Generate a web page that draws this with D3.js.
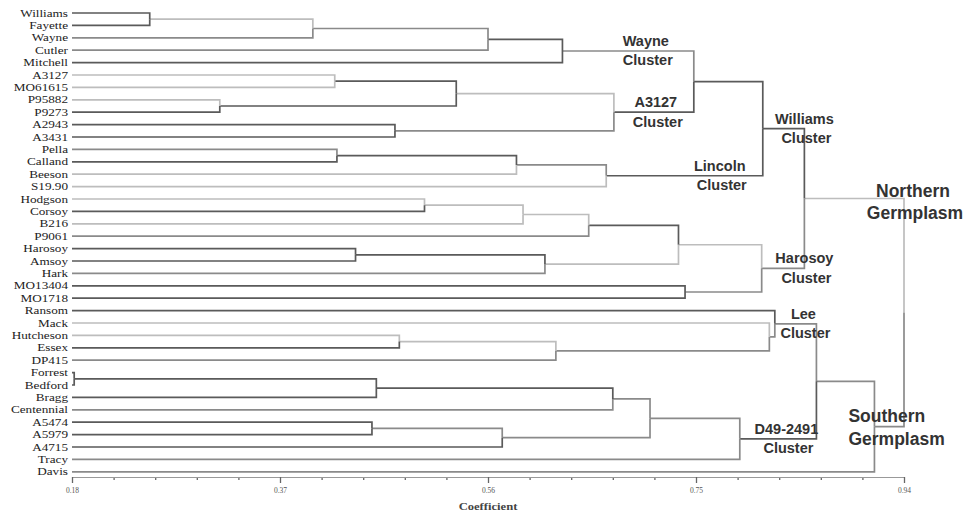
<!DOCTYPE html>
<html><head><meta charset="utf-8">
<script src="https://cdn.jsdelivr.net/npm/d3@7"></script>
<style>body{margin:0;background:#fff}</style>
</head><body><svg id="chart" width="969" height="516"></svg>
<script>
// ---------- DATA ----------
const leaves = ["Williams","Fayette","Wayne","Cutler","Mitchell","A3127","MO61615","P95882","P9273","A2943","A3431","Pella","Calland","Beeson","S19.90","Hodgson","Corsoy","B216","P9061","Harosoy","Amsoy","Hark","MO13404","MO1718","Ransom","Mack","Hutcheson","Essex","DP415","Forrest","Bedford","Bragg","Centennial","A5474","A5979","A4715","Tracy","Davis"];
// merge k creates node "n"+k joining mergeA[k] and mergeB[k] at coefficient mergeCoef[k]
const mergeA = ["Williams","n0","n1","n2","A3127","P95882","n4","A2943","n6","n3","Pella","n10","n11","n9","Hodgson","n14","n15","Harosoy","n17","n16","MO13404","n19","n13","Hutcheson","n23","Mack","Ransom","Forrest","n27","n28","A5474","n30","n29","n32","n26","n34","n22"];
const mergeB = ["Fayette","Wayne","Cutler","Mitchell","MO61615","P9273","n5","A3431","n7","n8","Calland","Beeson","S19.90","n12","Corsoy","B216","P9061","Amsoy","Hark","n18","MO1718","n20","n21","Essex","DP415","n24","n25","Bedford","Bragg","Centennial","A5979","A4715","n31","Tracy","n33","Davis","n35"];
const mergeCoef = [0.251,0.400,0.560,0.628,0.420,0.315,0.531,0.475,0.675,0.748,0.422,0.586,0.668,0.811,0.502,0.592,0.652,0.439,0.612,0.734,0.740,0.810,0.849,0.479,0.622,0.817,0.822,0.182,0.458,0.674,0.454,0.573,0.708,0.790,0.860,0.913,0.940];
const majorTicks = [0.18,0.37,0.56,0.75,0.94];
const majorTickLabels = ["0.18","0.37","0.56","0.75","0.94"];
const minorTicks = [0.218,0.256,0.294,0.332,0.408,0.446,0.484,0.522,0.598,0.636,0.674,0.712,0.788,0.826,0.864,0.902];
const axisTitle = "Coefficient";
const clusterNodes = ["n3","n8","n13","n12","n21","n26","n33"];
const clusterLabels = [["Wayne","Cluster"],["A3127","Cluster"],["Williams","Cluster"],["Lincoln","Cluster"],["Harosoy","Cluster"],["Lee","Cluster"],["D49-2491","Cluster"]];
const groupNodes = ["n22","n35"];
const groupLabels = [["Northern","Germplasm"],["Southern","Germplasm"]];

// ---------- STYLE (not data) ----------
const shade = {d:"#5a5a5a", m:"#8a8a8a", l:"#bdbdbd"};
const linkShade = {
  Williams:"d",Fayette:"d",n0:"l",Wayne:"m",n1:"m",Cutler:"m",n2:"d",Mitchell:"d",n3:"m",
  A3127:"l",MO61615:"l",n4:"d",P95882:"l",P9273:"d",n5:"d",n6:"l",A2943:"d",A3431:"d",n7:"m",n8:"d",n9:"d",
  Pella:"m",Calland:"d",n10:"d",Beeson:"l",n11:"m","S19.90":"l",n12:"d",n13:"d",
  Hodgson:"l",Corsoy:"d",n14:"l",B216:"l",n15:"l",P9061:"m",n16:"d",Harosoy:"d",Amsoy:"d",n17:"d",Hark:"m",n18:"l",n19:"l",
  MO13404:"d",MO1718:"d",n20:"m",n21:"m",n22:"l",
  Ransom:"d",Mack:"l",Hutcheson:"l",Essex:"d",n23:"l",DP415:"m",n24:"m",n25:"m",n26:"m",
  Forrest:"d",Bedford:"d",n27:"d",Bragg:"d",n28:"d",Centennial:"m",n29:"m",A5474:"d",A5979:"d",n30:"m",A4715:"d",n31:"m",n32:"m",Tracy:"m",n33:"d",n34:"m",Davis:"m",n35:"m"
};

// ---------- BUILD TREE ----------
const nodeMap = {};
leaves.forEach(n => nodeMap[n] = {name:n, coef:majorTicks[0]});
mergeCoef.forEach((c,k) => {
  nodeMap["n"+k] = {name:"n"+k, coef:c, children:[nodeMap[mergeA[k]], nodeMap[mergeB[k]]]};
});
const rootData = nodeMap["n"+(mergeCoef.length-1)];
const root = d3.hierarchy(rootData);

const svg = d3.select("#chart");
const x = d3.scaleLinear().domain([0.18,0.94]).range([72,904]);
const y = d3.scalePoint().domain(leaves).range([13,471.8]);

root.eachAfter(d => {
  d.px = x(d.data.coef);
  d.py = d.children ? d3.mean(d.children, c => c.py) : y(d.data.name);
});
const byName = {};
root.each(d => byName[d.data.name] = d);

// links (elbow)
svg.append("g").attr("fill","none").attr("stroke-width",1.7)
  .selectAll("path").data(root.descendants().filter(d => d.parent))
  .join("path")
  .attr("stroke", d => shade[linkShade[d.data.name] || "m"])
  .attr("d", d => `M${d.parent.px},${d.parent.py}V${d.py}H${d.px}`);

// leaf labels
svg.append("g").selectAll("text").data(root.leaves()).join("text")
  .attr("transform", d => `translate(68,${d.py+3.6}) scale(1.2,1)`)
  .attr("text-anchor","end")
  .attr("font-family","'Liberation Serif','Times New Roman',serif")
  .attr("font-size",11)
  .attr("fill","#222")
  .text(d => d.data.name);

// axis
const axisY = 477;
const gMinor = svg.append("g").attr("transform",`translate(0,${axisY})`)
  .call(d3.axisBottom(x).tickValues(minorTicks).tickSize(3).tickSizeOuter(0).tickFormat(""));
const gMajor = svg.append("g").attr("transform",`translate(0,${axisY})`)
  .call(d3.axisBottom(x).tickValues(majorTicks).tickSize(6).tickSizeOuter(0).tickPadding(5)
        .tickFormat((d,i) => majorTickLabels[i]));
[gMinor,gMajor].forEach(g => {
  g.attr("color","#555");
  g.select(".domain").attr("stroke","#999").attr("stroke-width",1.2);
  g.selectAll(".tick line").attr("stroke","#666").attr("stroke-width",1.3);
});
gMajor.selectAll(".tick text")
  .attr("font-family","'Liberation Serif',serif").attr("font-size",7.5).attr("fill","#555");

svg.append("text")
  .attr("transform",`translate(${(x.range()[0]+x.range()[1])/2},510) scale(1.2,1)`)
  .attr("text-anchor","middle")
  .attr("font-family","'Liberation Serif',serif").attr("font-weight","bold")
  .attr("font-size",10.5).attr("fill","#444").text(axisTitle);

// cluster labels: positioned relative to the node they annotate
const clusterDx = [-48,-38,0,-43,0,-13,-30];
const gl = svg.append("g").attr("font-family","'Liberation Sans',Arial,sans-serif")
  .attr("font-weight","bold").attr("fill","#333").attr("text-anchor","middle");
clusterNodes.forEach((id,i) => {
  const n = byName[id];
  const cx = n.parent.px + clusterDx[i];
  const t = gl.append("text").attr("font-size",14.5);
  t.append("tspan").attr("x",cx).attr("y",n.py - 10 + 5).text(clusterLabels[i][0]);
  t.append("tspan").attr("x",cx+2).attr("y",n.py + 9.5 + 5).text(clusterLabels[i][1]);
});
// germplasm labels
const g0 = byName[groupNodes[0]], g1 = byName[groupNodes[1]];
const tN = gl.append("text").attr("font-size",17.5);
tN.append("tspan").attr("x",g0.parent.px+9).attr("y",g0.py-7.5+6.2).text(groupLabels[0][0]);
tN.append("tspan").attr("x",g0.parent.px+11).attr("y",g0.py+14.5+6.2).text(groupLabels[0][1]);
const tS = gl.append("text").attr("font-size",17.5).attr("text-anchor","start");
tS.append("tspan").attr("x",g1.px-26).attr("y",g1.py-11+6.2).text(groupLabels[1][0]);
tS.append("tspan").attr("x",g1.px-26).attr("y",g1.py+12+6.2).text(groupLabels[1][1]);
</script>
</body></html>
